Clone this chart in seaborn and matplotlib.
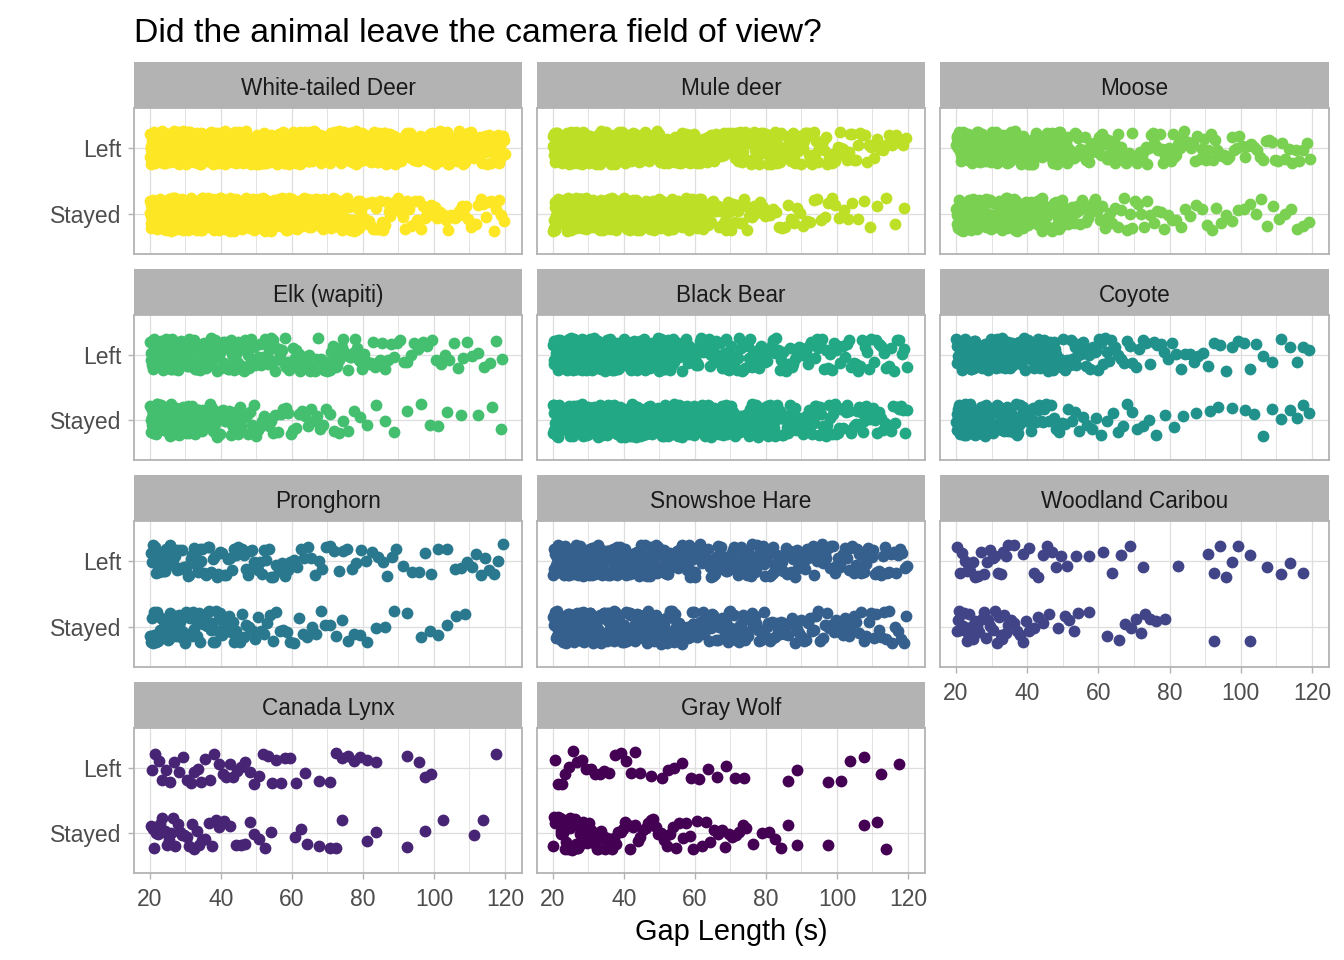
import numpy as np
import pandas as pd
import matplotlib
matplotlib.use("Agg")
import matplotlib.pyplot as plt
import seaborn as sns

# facet order (3 columns, filled row by row)
species = ["White-tailed Deer", "Mule deer", "Moose", "Elk (wapiti)", "Black Bear",
           "Coyote", "Pronghorn", "Snowshoe Hare", "Woodland Caribou",
           "Canada Lynx", "Gray Wolf"]
status_order = ["Left", "Stayed"]

bin_starts = list(range(20, 120, 5))
bin_width = 5
left_counts = [
    [80, 75, 70, 65, 60, 55, 50, 48, 45, 42, 40, 38, 36, 34, 30, 28, 26, 24, 22, 22],
    [55, 50, 45, 42, 40, 36, 34, 32, 30, 28, 26, 24, 22, 20, 16, 12, 10, 8, 6, 5],
    [45, 40, 35, 30, 25, 22, 18, 15, 12, 12, 10, 10, 9, 8, 8, 7, 6, 6, 5, 5],
    [40, 35, 30, 26, 22, 18, 16, 14, 14, 12, 12, 10, 8, 6, 5, 4, 4, 4, 3, 3],
    [50, 45, 40, 35, 32, 28, 24, 20, 16, 14, 13, 12, 11, 10, 10, 9, 8, 8, 7, 7],
    [32, 28, 25, 20, 18, 15, 14, 12, 9, 6, 5, 5, 4, 4, 3, 3, 3, 2, 2, 3],
    [16, 14, 12, 10, 9, 9, 8, 6, 5, 5, 4, 4, 3, 4, 2, 3, 2, 3, 4, 4],
    [35, 32, 30, 28, 26, 24, 22, 20, 18, 17, 16, 15, 14, 13, 12, 11, 10, 10, 9, 8],
    [7, 6, 7, 2, 4, 4, 2, 1, 2, 2, 1, 0, 1, 0, 3, 3, 1, 1, 2, 1],
    [5, 4, 5, 4, 5, 4, 4, 4, 2, 1, 3, 3, 2, 0, 1, 3, 0, 0, 0, 1],
    [5, 4, 4, 3, 4, 1, 3, 2, 2, 2, 2, 0, 0, 2, 0, 1, 2, 1, 1, 1],
]
stayed_counts = [
    [80, 70, 65, 60, 55, 50, 45, 40, 36, 32, 26, 18, 13, 10, 9, 9, 8, 8, 7, 7],
    [50, 45, 40, 35, 30, 26, 24, 22, 18, 15, 10, 8, 6, 6, 5, 5, 4, 3, 2, 2],
    [45, 40, 35, 30, 25, 18, 12, 8, 7, 6, 6, 5, 4, 3, 4, 3, 3, 3, 3, 3],
    [40, 35, 30, 22, 15, 10, 8, 7, 6, 6, 4, 3, 2, 2, 1, 2, 2, 1, 1, 2],
    [55, 50, 45, 42, 40, 36, 34, 32, 30, 28, 26, 22, 20, 18, 15, 12, 11, 10, 9, 9],
    [32, 28, 22, 16, 11, 7, 5, 4, 3, 4, 3, 2, 2, 1, 2, 1, 2, 2, 2, 3],
    [22, 18, 15, 13, 10, 8, 6, 5, 4, 4, 3, 3, 2, 2, 1, 2, 2, 2, 0, 0],
    [40, 35, 32, 30, 26, 24, 22, 18, 16, 15, 14, 12, 11, 10, 9, 8, 8, 7, 7, 6],
    [14, 8, 9, 6, 4, 2, 4, 1, 1, 3, 4, 2, 0, 0, 1, 0, 1, 0, 0, 0],
    [10, 8, 7, 5, 3, 4, 3, 0, 3, 1, 3, 0, 2, 0, 1, 1, 1, 0, 2, 0],
    [22, 18, 12, 8, 7, 7, 6, 5, 4, 5, 5, 2, 3, 2, 0, 1, 0, 1, 2, 0],
]
x_ticks = [20, 40, 60, 80, 100, 120]
x_minor = [30, 50, 70, 90, 110]

colors = [matplotlib.colormaps["viridis"](v) for v in np.linspace(1, 0, len(species))]


def expand(counts):
    vals = []
    for start, n in zip(bin_starts, counts):
        for i in range(n):
            vals.append(start + (i + 0.5) * bin_width / n)
    return vals


sns.set_style("white")
plt.rcParams["font.family"] = ["Liberation Sans", "DejaVu Sans"]

W, H = 1344, 960
fig = plt.figure(figsize=(W / 100, H / 100), dpi=100)

col_x = [(134, 522), (537, 925), (940, 1329)]
row_y = [(108, 254), (315, 460), (521, 667), (728, 873)]
strip_h = 46
grid_col = "#DEDEDE"
frame_col = "#B3B3B3"

np.random.seed(7)
for k, name in enumerate(species):
    r, c = divmod(k, 3)
    x0, x1 = col_x[c]
    y0, y1 = row_y[r]
    ax = fig.add_axes([x0 / W, 1 - y1 / H, (x1 - x0) / W, (y1 - y0) / H])

    left = expand(left_counts[k])
    stayed = expand(stayed_counts[k])
    df = pd.DataFrame({
        "gap": left + stayed,
        "status": ["Left"] * len(left) + ["Stayed"] * len(stayed),
    })
    sns.stripplot(data=df, x="gap", y="status", order=status_order, orient="h",
                  jitter=0.25, size=8.5, linewidth=0, color=colors[k], ax=ax, zorder=3)

    ax.set_xlim(15.5, 124.8)
    ax.set_ylim(1.6, -0.6)
    ax.set_xticks(x_ticks)
    ax.set_xticks(x_minor, minor=True)
    ax.grid(which="major", color=grid_col, lw=0.9)
    ax.grid(which="minor", axis="x", color=grid_col, lw=0.6)
    ax.set_axisbelow(True)
    ax.set_xlabel("")
    ax.set_ylabel("")
    for s in ax.spines.values():
        s.set_color(frame_col)
        s.set_linewidth(1.3)
    ax.tick_params(which="major", color=frame_col, length=4, width=1,
                   labelsize=16.5, labelcolor="#4D4D4D")
    ax.tick_params(axis="x", pad=7)
    ax.tick_params(axis="y", pad=5)
    ax.tick_params(which="minor", length=0)

    bottom_panel = k >= len(species) - 3
    ax.tick_params(axis="x", bottom=bottom_panel, labelbottom=bottom_panel)
    ax.tick_params(axis="y", left=(c == 0), labelleft=(c == 0))

    # facet strip
    sax = fig.add_axes([x0 / W, 1 - y0 / H, (x1 - x0) / W, strip_h / H])
    sax.set_facecolor(frame_col)
    sax.set_xticks([])
    sax.set_yticks([])
    for s in sax.spines.values():
        s.set_visible(False)
    sax.text(0.5, 0.28, name, ha="center", va="baseline", fontsize=16.3, color="#1A1A1A")

fig.text(134 / W, 1 - 42 / H, "Did the animal leave the camera field of view?",
         ha="left", va="baseline", fontsize=24.3, color="black")
fig.text(731 / W, 1 - 940 / H, "Gap Length (s)", ha="center", va="baseline",
         fontsize=20.8, color="black")

fig.savefig("out.png", dpi=100)
